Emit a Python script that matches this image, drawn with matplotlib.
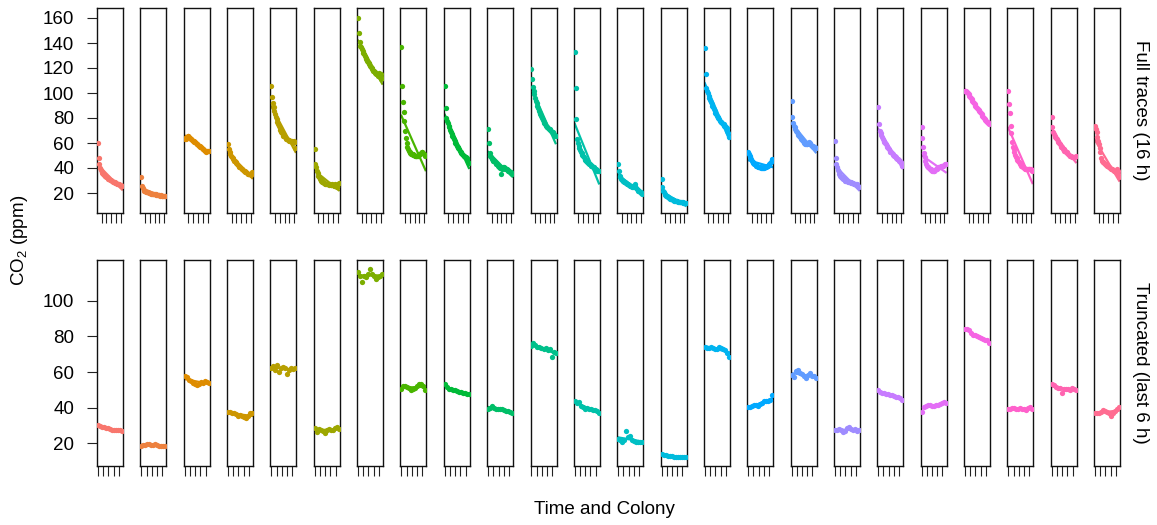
import numpy as np
import matplotlib
matplotlib.use("Agg")
import matplotlib.pyplot as plt

plt.rcParams["font.family"] = ["Liberation Sans", "DejaVu Sans"]
plt.rcParams["mathtext.fontset"] = "custom"
plt.rcParams["mathtext.rm"] = "Liberation Sans"
plt.rcParams["mathtext.it"] = "Liberation Sans:italic"

# sampling times (h)
full_time = np.arange(0, 16.5, 0.5)      # whole 16 h trace
trunc_time = np.arange(10, 16.5, 0.5)    # last 6 h only

colonies = [f"C{i:02d}" for i in range(1, 25)]

# CO2 (ppm), one list per colony, full 16 h traces
full_co2 = [
    [60, 48, 43, 40, 38.5, 37, 36, 35, 34.5, 34, 33.5, 33, 32.5, 32, 31.5, 31, 30.5, 30.5, 30, 29.5, 29, 29, 28.5, 28, 28, 27.5, 27.5, 27, 27, 26.5, 26.5, 26, 26],
    [33, 26, 24, 22.5, 22, 21.5, 21, 21, 20.5, 20.5, 20, 20, 20, 19.5, 19.5, 19.5, 19, 19, 19, 19, 18.5, 18.5, 18.5, 18.5, 18.5, 18, 18.5, 18, 18, 18, 18, 17.5, 18],
    [63, 64, 63.5, 65, 66, 65.5, 64.5, 64, 63.5, 63, 62.5, 62, 61.5, 61, 60.5, 60, 59.5, 59, 58.5, 58, 57.5, 57, 56.5, 56, 55.5, 55, 54.5, 54, 53.5, 53, 53.5, 54, 54],
    [59, 55, 52.5, 51, 50, 49, 48, 47, 46, 45.5, 44.5, 44, 43, 42.5, 42, 41, 40.5, 40, 39.5, 39, 38.5, 38, 37.5, 37, 36.5, 36, 35.5, 35.5, 35, 35, 34.5, 35.5, 36.5],
    [106, 97, 92, 89, 86, 83.5, 81, 79, 77, 75, 73.5, 72, 70.5, 69, 68, 67, 66, 65.5, 65, 64, 63.5, 63, 62.5, 62.5, 62, 62, 61.5, 61, 61.5, 60, 62, 56, 61],
    [55, 43, 40.5, 38, 36, 34, 32.5, 31.5, 30.5, 29.5, 29, 28.5, 28, 28, 27.5, 27.5, 27, 27, 27, 26.5, 27, 26.5, 26.5, 27, 26.5, 26, 26.5, 27, 26, 25, 24.5, 27, 28],
    [160, 148, 141, 138, 136.5, 135, 133.5, 132, 131, 129.5, 128, 127, 126, 125, 124, 123, 122, 121, 120, 119, 118, 117.5, 117, 116, 115.5, 115, 114.5, 114, 116, 113, 111, 115, 112],
    [137, 106, 93, 85, 78, 70, 64, 60, 57, 55, 53.5, 52.5, 52, 51.5, 51, 51, 50.5, 50.5, 50, 50, 50, 49.5, 50, 50.5, 51, 51.5, 52, 52.5, 52.5, 52, 51, 50.5, 50],
    [106, 88, 80, 78, 76, 74, 72.5, 70.5, 69, 67.5, 66, 64.5, 63, 61.5, 60, 59, 58, 57, 56, 55, 54, 53, 52, 51, 50.5, 50, 49.5, 49, 48.5, 48, 47, 45, 44],
    [71, 60, 52, 50, 48.5, 47.5, 46.5, 46, 45.5, 45, 44, 43.5, 43, 42, 41.5, 41, 40, 35.5, 39, 40, 40.5, 41, 40, 39.5, 39, 39.5, 38.5, 38, 37.5, 37, 36.5, 36, 35.5],
    [119, 111, 105, 102, 99, 96, 94, 92, 90, 88, 86, 84, 83, 81.5, 80, 78.5, 77, 76, 75, 74, 73, 72.5, 72, 71.5, 71, 70.5, 70, 69, 68.5, 68, 67, 65.5, 66],
    [133, 104, 79, 63, 60, 57.5, 56, 54.5, 53, 52, 50.5, 49.5, 48.5, 47.5, 46.5, 46, 45, 44.5, 44, 43.5, 43, 42.5, 42, 41.5, 41, 40.5, 40, 39.5, 39, 38.5, 38, 37.5, 37.5],
    [43, 38, 34, 32.5, 31.5, 30.5, 30, 29.5, 29, 28.5, 28, 28, 27.5, 27, 26.5, 26.5, 26, 25.5, 25.5, 25, 25, 26, 27, 26, 24, 23, 22.5, 22, 21.5, 21, 20.5, 20, 19.5],
    [31, 25, 22, 20.5, 19.5, 18.5, 18, 17.5, 17, 16.5, 16, 15.5, 15.5, 15, 15, 14.5, 14.5, 14, 14, 13.5, 13.5, 13.5, 13, 13, 13, 12.5, 12.5, 12.5, 12.5, 12, 12, 12, 12],
    [136, 115, 104, 102, 100, 98, 96, 94.5, 93, 91.5, 90, 88.5, 87, 85.5, 84, 83, 82, 81, 80, 79, 78, 77, 76.5, 76, 75.5, 75, 74, 73.5, 73, 72, 70, 68, 65],
    [53, 51.5, 50, 48.5, 47.5, 46, 45, 44, 43.5, 43, 42.5, 42, 41.5, 41, 41, 40.5, 40.5, 40, 40, 40, 40.5, 40, 40.5, 40.5, 41, 41.5, 42, 42.5, 43, 44, 45, 46.5, 47],
    [94, 81, 76, 74, 72.5, 71, 70, 68.5, 67.5, 66.5, 65.5, 64.5, 64, 63, 62.5, 61.5, 60.5, 60, 59.5, 59, 59, 59.5, 60, 60.5, 60, 59, 58.5, 58, 57.5, 57, 57, 56.5, 56],
    [62, 48, 43, 40.5, 38.5, 37, 35.5, 34, 33, 32.5, 32, 31.5, 31, 30.5, 30, 30, 29.5, 29.5, 29, 29, 28.5, 28.5, 28, 28, 28, 27.5, 27.5, 27.5, 27, 27, 26.5, 25.5, 25],
    [88.5, 75, 70, 68, 66.5, 65, 63.5, 62, 61, 60, 59, 58, 57, 56, 55, 54, 53, 52.5, 52, 51, 50.5, 50, 49.5, 49, 48, 47.5, 47, 46.5, 46, 45.5, 44.5, 43, 42],
    [73, 64, 57, 52, 49, 46, 43.5, 42, 41, 40.5, 40, 39.5, 39, 38.5, 38, 38, 37.5, 38, 38.5, 39, 39.5, 40, 40.5, 40.5, 41, 41, 41.5, 41.5, 42, 42, 42.5, 43, 43.5],
    [102, 101.5, 101, 100.5, 100, 99, 98, 97, 96, 95, 94, 93, 92, 91, 90, 89, 88, 87, 86.5, 86, 85, 84, 83, 82, 81, 80, 79, 78.5, 78, 77, 76.5, 76, 75],
    [102, 91, 84, 74, 68, 61, 57, 55, 53, 50.5, 49, 48, 46.5, 45.5, 44.5, 44, 43, 42, 41.5, 41, 40.5, 40, 39.5, 39.5, 39, 39, 39, 39.5, 39, 39, 39.5, 38.5, 38],
    [80.5, 73, 69, 67, 66, 65, 64, 63, 62, 61, 60, 59, 58, 57, 56.5, 55.5, 55, 54, 53.5, 53, 52.5, 52, 51, 50.5, 50, 50, 49.5, 49, 49, 48.5, 48.5, 49, 50],
    [74, 71, 68.5, 65, 62, 59, 56, 52.5, 48, 46, 45, 44.5, 44, 43.5, 43, 42.5, 42, 41.5, 41, 40.5, 40, 39.5, 39.5, 39, 38.5, 38, 37.5, 37.5, 37, 39, 38, 35, 32.5],
]

# CO2 (ppm), last 6 h of each trace
trunc_co2 = [
    [30.5, 29.5, 29, 29, 28.5, 28.5, 28, 27.5, 27.5, 27.5, 27.5, 27.5, 27],
    [18.5, 19, 19, 19.5, 19.5, 19, 19, 19.5, 19, 18.5, 18.5, 18.5, 18.5],
    [58, 57, 55.5, 55, 54, 53.5, 52.5, 53.5, 54.5, 54, 55, 54.5, 54],
    [37.5, 37.5, 37, 37, 36.5, 35.5, 36, 35.5, 34.5, 34, 35.5, 37, 37],
    [62.5, 63.5, 61, 64, 60, 62.5, 63, 62.5, 59, 61, 62.5, 61.5, 62.5],
    [28.5, 26.5, 28, 27.5, 27, 26, 27.5, 28, 27.5, 27.5, 28.5, 29, 28],
    [116, 114, 110.5, 114, 113.5, 115, 117.5, 115, 114, 112, 113.5, 114, 115],
    [50.5, 52, 52, 51.5, 51, 50, 50.5, 51, 52, 53, 53.5, 52, 50],
    [53, 51.5, 50.5, 50.5, 50, 50, 49.5, 49, 49, 48.5, 48, 47.5, 47.5],
    [39, 40, 41, 40, 39.5, 39.5, 39, 39, 38.5, 38, 38, 37.5, 37],
    [74.5, 76.5, 75, 74, 74, 73.5, 73, 73.5, 72.5, 73, 68.5, 71, 70.5],
    [44, 42.5, 43, 41, 40.5, 39, 40, 39.5, 39, 38.5, 38.5, 38, 37],
    [22.5, 22, 21, 22, 27, 23.5, 24, 22, 21.5, 21, 21, 20.5, 20.5],
    [14, 13.5, 13.5, 13, 13, 13, 12.5, 12.5, 12.5, 12.5, 12.5, 12.5, 12.5],
    [74, 73.5, 73.5, 74, 73.5, 73, 73, 74, 73.5, 73, 72.5, 70.5, 68.5],
    [40.5, 40.5, 41, 41.5, 41.5, 41, 42, 42.5, 43.5, 43.5, 44, 44.5, 47],
    [58.5, 57, 60.5, 61, 59.5, 59, 57.5, 56.5, 58.5, 59.5, 58, 57.5, 56.5],
    [27.5, 27.5, 28, 27.5, 26.5, 27, 28.5, 29, 28, 27.5, 28, 27, 27.5],
    [50, 49, 48.5, 48, 47.5, 47.5, 47, 47, 46.5, 46, 46, 45.5, 44.5],
    [37.5, 40.5, 41, 41.5, 41.5, 41, 41, 41.5, 41.5, 42, 42.5, 43, 42.5],
    [84, 84, 83.5, 82, 81, 80.5, 80, 79.5, 79, 78.5, 78, 78, 76.5],
    [39.5, 39.5, 40, 40, 39, 39.5, 40, 39.5, 39, 38.5, 40, 40.5, 39],
    [53.5, 52.5, 51.5, 51, 51, 48, 50.5, 50.5, 50.5, 50, 51, 50.5, 50],
    [37, 37, 37, 37.5, 38.5, 38, 37.5, 37, 35.5, 37, 38, 39, 40.5],
]

row_labels = ["Full traces (16 h)", "Truncated (last 6 h)"]
yticks_rows = [[20, 40, 60, 80, 100, 120, 140, 160], [20, 40, 60, 80, 100]]
ylims = [(4, 168), (7.3, 122.8)]
xlims = [(-0.64, 16.64), (9.76, 16.24)]
xticks_rows = [[2.4, 5.6, 8.8, 12.0, 15.2], [10.0, 11.3, 12.6, 13.9, 15.2]]


def hue_colour(h, c=100.0, l=65.0):
    # polar LUV -> sRGB, same recipe as the usual ggplot hue wheel
    hr = np.deg2rad(h)
    U, V = c * np.cos(hr), c * np.sin(hr)
    Y = ((l + 16) / 116) ** 3
    Xn, Yn, Zn = 0.95047, 1.0, 1.08883
    den = Xn + 15 * Yn + 3 * Zn
    un, vn = 4 * Xn / den, 9 * Yn / den
    up = U / (13 * l) + un
    vp = V / (13 * l) + vn
    X = Y * 9 * up / (4 * vp)
    Z = Y * (12 - 3 * up - 20 * vp) / (4 * vp)
    rgb = np.array([
        3.2404542 * X - 1.5371385 * Y - 0.4985314 * Z,
        -0.9692660 * X + 1.8760108 * Y + 0.0415560 * Z,
        0.0556434 * X - 0.2040259 * Y + 1.0572252 * Z,
    ])
    rgb = np.where(rgb <= 0.0031308, 12.92 * rgb, 1.055 * np.abs(rgb) ** (1 / 2.4) - 0.055)
    return tuple(np.clip(rgb, 0, 1))


n = len(colonies)
colours = [hue_colour(15 + 15 * i) for i in range(n)]

W, H = 1157, 525
fig = plt.figure(figsize=(W / 100, H / 100), dpi=100)

x0, pitch, pw = 97, 43.35, 26
row_top = [8, 260]
row_h = [205, 206]

datasets = [(full_time, full_co2), (trunc_time, trunc_co2)]

for r, (tt, rows) in enumerate(datasets):
    for i in range(n):
        left = (x0 + pitch * i) / W
        bottom = 1 - (row_top[r] + row_h[r]) / H
        ax = fig.add_axes([left, bottom, pw / W, row_h[r] / H])
        yy = np.array(rows[i], dtype=float)
        ax.plot(tt, yy, "o", ms=3.8, mec="none", color=colours[i], zorder=3)
        # least-squares line through each panel
        b, a = np.polyfit(tt, yy, 1)
        ax.plot([tt[0], tt[-1]], [a + b * tt[0], a + b * tt[-1]],
                color=colours[i], lw=1.6, zorder=2)
        ax.set_xlim(*xlims[r])
        ax.set_ylim(*ylims[r])
        ax.set_xticks(xticks_rows[r])
        ax.set_xticklabels([])
        ax.tick_params(axis="both", direction="out", length=7.5, width=0.8,
                       colors="#222222", labelsize=13.5, pad=9)
        if i == 0:
            ax.set_yticks(yticks_rows[r])
            ax.tick_params(axis="y", labelcolor="black")
        else:
            ax.set_yticks([])
        for s in ax.spines.values():
            s.set_linewidth(1.0)
            s.set_color("#111111")

fig.text(1140 / W, 1 - (row_top[0] + row_h[0] / 2) / H, row_labels[0],
         rotation=-90, ha="center", va="center", fontsize=13.5)
fig.text(1140 / W, 1 - (row_top[1] + row_h[1] / 2) / H, row_labels[1],
         rotation=-90, ha="center", va="center", fontsize=13.5)
fig.text(20 / W, 1 - 240 / H, "CO$_2$ (ppm)", rotation=90,
         ha="center", va="center", fontsize=13.5)
fig.text(604 / W, 1 - 510 / H, "Time and Colony", ha="center", va="center",
         fontsize=13.5)

fig.savefig("out.png", dpi=100)
